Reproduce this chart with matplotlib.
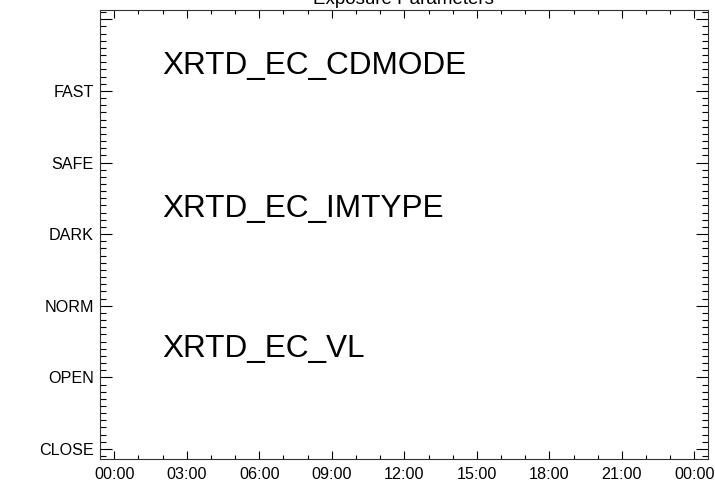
import numpy as np
import matplotlib
matplotlib.use("Agg")
import matplotlib.pyplot as plt
from matplotlib.ticker import MultipleLocator

plt.rcParams['font.family'] = ['Liberation Sans', 'DejaVu Sans']

# Axis content
hour_ticks = [0, 3, 6, 9, 12, 15, 18, 21, 24]
hour_labels = ['00:00', '03:00', '06:00', '09:00', '12:00', '15:00', '18:00', '21:00', '00:00']
state_ticks = [0, 1, 2, 3, 4, 5, 6]
state_labels = ['CLOSE', 'OPEN', 'NORM', 'DARK', 'SAFE', 'FAST', '']

# Parameter names written inside the panel
param_names = ['XRTD_EC_CDMODE', 'XRTD_EC_IMTYPE', 'XRTD_EC_VL']
param_x = [2.0, 2.0, 2.0]
param_y = [5.24, 3.24, 1.28]

fig = plt.figure(figsize=(7.15, 4.84), dpi=100)
ax = fig.add_axes([0.1399, 0.0517, 0.8499, 0.9276])

ax.set_xlim(-0.59, 24.55)
ax.set_ylim(-0.14, 6.13)

ax.set_xticks(hour_ticks)
ax.set_xticklabels(hour_labels)
ax.xaxis.set_minor_locator(MultipleLocator(1))
ax.set_yticks(state_ticks)
ax.set_yticklabels(state_labels)
ax.yaxis.set_minor_locator(MultipleLocator(0.1))

ax.tick_params(axis='both', which='both', direction='in', top=True, right=True,
               width=0.8, colors='black', labelsize=11.6)
ax.tick_params(axis='x', which='major', length=5.8, pad=6)
ax.tick_params(axis='x', which='minor', length=2.9)
ax.tick_params(axis='y', which='major', length=8.6, pad=4.5)
ax.tick_params(axis='y', which='minor', length=4.3)

for s in ax.spines.values():
    s.set_linewidth(0.8)
    s.set_color('#333333')

for name, x, y in zip(param_names, param_x, param_y):
    ax.text(x, y, name, fontsize=22.7, va='baseline', ha='left')

ax.set_title('Exposure Parameters', fontsize=13.5, pad=4)

fig.savefig('out.png', dpi=100)
